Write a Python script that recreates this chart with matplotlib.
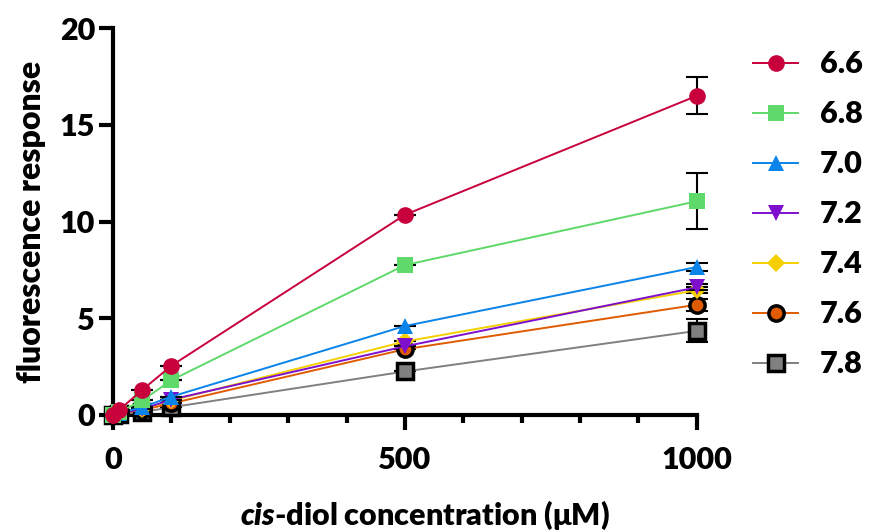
""" fluorescence response vs cis-diol concentration at several pH values """
import matplotlib
matplotlib.use('Agg')
import matplotlib.pyplot as plt
from matplotlib.ticker import MultipleLocator

plt.rcParams['font.family'] = ['Lato', 'DejaVu Sans']
plt.rcParams['font.weight'] = 'heavy'
plt.rcParams['axes.labelweight'] = 'heavy'
plt.rcParams['mathtext.fontset'] = 'custom'
plt.rcParams['mathtext.it'] = 'Lato:italic:heavy'
plt.rcParams['mathtext.rm'] = 'Lato:heavy'

# data
conc = [0, 10, 50, 100, 500, 1000]
ph_labels = ['6.6', '6.8', '7.0', '7.2', '7.4', '7.6', '7.8']
resp_66 = [0.0, 0.25, 1.3, 2.55, 10.35, 16.5]
resp_68 = [0.0, 0.15, 0.75, 1.8, 7.75, 11.05]
resp_70 = [0.0, 0.1, 0.4, 0.95, 4.6, 7.65]
resp_72 = [0.0, 0.08, 0.3, 0.8, 3.55, 6.6]
resp_74 = [0.0, 0.08, 0.3, 0.75, 3.8, 6.45]
resp_76 = [0.0, 0.06, 0.25, 0.6, 3.4, 5.7]
resp_78 = [0.0, 0.05, 0.15, 0.4, 2.25, 4.35]
err_66 = [0, 0, 0, 0, 0, 0.95]
err_68 = [0, 0, 0, 0, 0, 1.45]
err_70 = [0, 0, 0, 0, 0, 0.2]
err_72 = [0, 0, 0, 0, 0, 0.15]
err_74 = [0, 0, 0, 0, 0, 0.15]
err_76 = [0, 0, 0, 0, 0, 0.3]
err_78 = [0, 0, 0, 0, 0, 0.6]

series = [resp_66, resp_68, resp_70, resp_72, resp_74, resp_76, resp_78]
errors = [err_66, err_68, err_70, err_72, err_74, err_76, err_78]

# styles
colors = ['#C8003C', '#5FD96A', '#0A84E8', '#7E0FCC', '#F5D000', '#E05A00', '#808080']
markers = ['o', 's', '^', 'v', 'D', 'o', 's']
sizes = [12, 12, 12, 12, 9, 11, 11]
edges = [None, None, None, None, None, 'black', 'black']

fig = plt.figure(figsize=(8.7, 5.3), dpi=100)
ax = fig.add_axes([0.13, 0.217, 0.671, 0.73])

handles = []
for i, (vals, errs) in enumerate(zip(series, errors)):
    z = 20 - 2 * i
    ax.errorbar(conc, vals, yerr=errs, fmt='none', ecolor='black', elinewidth=1.5,
                capsize=8, capthick=1.5, zorder=z - 1, clip_on=False)
    mec = edges[i] if edges[i] else colors[i]
    mew = 2.5 if edges[i] else 0
    h, = ax.plot(conc, vals, color=colors[i], lw=1.4, marker=markers[i], ms=sizes[i],
                 markerfacecolor=colors[i], markeredgecolor=mec, markeredgewidth=mew,
                 zorder=z, clip_on=False, label=ph_labels[i])
    handles.append(h)

ax.set_xlim(0, 1000)
ax.set_ylim(0, 20)
ax.xaxis.set_major_locator(MultipleLocator(500))
ax.xaxis.set_minor_locator(MultipleLocator(100))
ax.yaxis.set_major_locator(MultipleLocator(5))

for side in ['top', 'right']:
    ax.spines[side].set_visible(False)
for side in ['left', 'bottom']:
    ax.spines[side].set_linewidth(3)
ax.tick_params(which='major', direction='out', width=3, length=11, labelsize=22)
ax.tick_params(axis='x', which='major', pad=11)
ax.tick_params(axis='y', which='major', length=10, pad=3)
ax.tick_params(which='minor', direction='out', width=3, length=6)

ax.set_ylabel('fluorescence response', fontsize=23, fontweight='heavy', labelpad=10)
ax.set_xlabel(r'$\mathit{cis}$-diol concentration (μM)', fontsize=22, fontweight='heavy',
              labelpad=18)
ax.xaxis.label.set_x(0.534)

fig.legend(handles=handles, loc='upper left', bbox_to_anchor=(0.866, 0.905), frameon=False,
           fontsize=22, handlelength=1.45, handletextpad=0.72, labelspacing=0.72,
           borderaxespad=0, borderpad=0)

fig.savefig('out.png', dpi=100)
